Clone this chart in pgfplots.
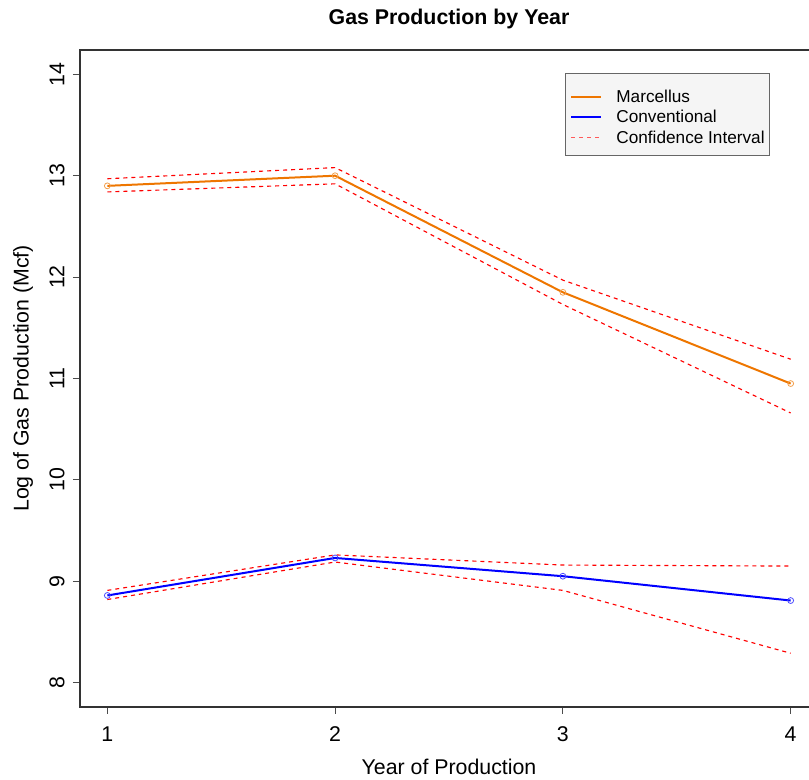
\documentclass[border=0pt]{standalone}
\usepackage{pgfplots}
\pgfplotsset{compat=1.18}
\usepackage{fontspec}
\setmainfont{Liberation Sans}
\definecolor{morange}{RGB}{238,118,0}
\definecolor{cired}{RGB}{255,0,0}
\definecolor{cilight}{RGB}{255,90,90}
\begin{document}
\begin{tikzpicture}
\useasboundingbox (-60pt,-54.75pt) rectangle (546.75pt,530.25pt);
\clip (-60pt,-54.75pt) rectangle (546.75pt,530.25pt);
\begin{axis}[
  scale only axis,
  width=553.5pt, height=492.75pt,
  xmin=0.88, xmax=4.12, ymin=7.76, ymax=14.24,
  xtick={1,2,3,4}, ytick={8,9,10,11,12,13,14},
  xtick pos=bottom, ytick pos=left,
  tick align=outside, major tick length=5.25pt,
  axis line style={black!80, line width=0.8pt},
  every tick/.style={black!70, line width=0.8pt},
  /pgf/number format/assume math mode=true,
  ticklabel style={font=\fontsize{16}{19}\selectfont},
  xticklabel style={anchor=center},
  xticklabel shift={15pt},
  yticklabel style={rotate=90, anchor=center},
  yticklabel shift={12pt},
  legend style={at={(rel axis cs:0.6572,0.965)}, anchor=north west,
    draw=black!60, fill=black!4, line width=0.6pt,
    font=\fontsize{12.9}{15}\selectfont,
    inner xsep=3.75pt, inner ysep=7.7pt, column sep=10.5pt, row sep=0pt,
    nodes={inner xsep=0pt, inner ysep=1.45pt, text height=12.5pt, text depth=0pt}},
  legend cell align=left,
  legend image code/.code={\draw[#1] (0pt,-2pt) -- (22.5pt,-2pt);},
]
% CI Marcellus
\addplot[draw=cired, line width=0.85pt, dash pattern=on 3pt off 3pt, forget plot] coordinates {(1,12.97) (2,13.08) (3,11.97) (4,11.19)};
\addplot[draw=cired, line width=0.85pt, dash pattern=on 3pt off 3pt, forget plot] coordinates {(1,12.84) (2,12.92) (3,11.73) (4,10.66)};
% CI Conventional
\addplot[draw=cired, line width=0.85pt, dash pattern=on 3pt off 3pt, forget plot] coordinates {(1,8.91) (2,9.26) (3,9.16) (4,9.15)};
\addplot[draw=cired, line width=0.85pt, dash pattern=on 3pt off 3pt, forget plot] coordinates {(1,8.82) (2,9.19) (3,8.91) (4,8.29)};
% Main lines
\addplot[morange, line width=1.5pt, mark=o, mark size=2.2pt, mark options={line width=0.6pt, draw=morange!70}] coordinates {(1,12.90) (2,13.00) (3,11.85) (4,10.95)};
\addlegendentry{Marcellus}
\addplot[blue, line width=1.5pt, mark=o, mark size=2.2pt, mark options={line width=0.6pt, draw=blue!70}] coordinates {(1,8.86) (2,9.23) (3,9.05) (4,8.81)};
\addlegendentry{Conventional}
\addlegendimage{draw=cilight, line width=1pt, dash pattern=on 3pt off 3pt}
\addlegendentry{Confidence Interval}
\end{axis}
\node[font=\bfseries\fontsize{16}{19}\selectfont] at (276.75pt,516pt) {Gas Production by Year};
\node[font=\fontsize{16}{19}\selectfont] at (276.75pt,-45pt) {Year of Production};
\node[font=\fontsize{16}{19}\selectfont, rotate=90] at (-42.75pt,246.4pt) {Log of Gas Production (Mcf)};
\end{tikzpicture}
\end{document}
